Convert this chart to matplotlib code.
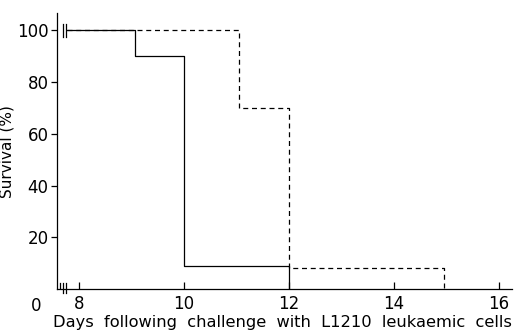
import matplotlib.pyplot as plt

# survival curves (step plots)
control_days = [7.78, 9.07, 10.0, 12.0]
control_surv = [100, 90, 9, 0]
treated_days = [7.78, 11.05, 12.0, 14.95]
treated_surv = [100, 70, 8, 0]

x_ticks = [8, 10, 12, 14, 16]
y_ticks = [20, 40, 60, 80, 100]

fig = plt.figure(figsize=(5.17, 3.35), dpi=100)
ax = fig.add_axes([0.110, 0.137, 0.880, 0.824])

ax.plot(control_days, control_surv, drawstyle='steps-post', color='black', lw=0.9)
ax.plot(treated_days, treated_surv, drawstyle='steps-post', color='black', lw=0.9,
        linestyle=(0, (4, 3)))

ax.set_xlim(7.58, 16.25)
ax.set_ylim(0, 106.6)
ax.spines['top'].set_visible(False)
ax.spines['right'].set_visible(False)
for s in ['left', 'bottom']:
    ax.spines[s].set_linewidth(0.9)

ax.set_xticks(x_ticks)
ax.set_yticks(y_ticks)
ax.tick_params(axis='x', direction='in', length=5, width=0.9, labelsize=12, pad=4)
ax.tick_params(axis='y', direction='out', length=4, width=0.9, labelsize=12, pad=2)

# axis break marks
for xb in [7.70, 7.76]:
    ax.plot([xb, xb], [-1.5, 2.5], color='black', lw=0.9, clip_on=False)
    ax.plot([xb, xb], [97.5, 102.5], color='black', lw=0.9, clip_on=False)
ax.plot([7.64, 7.64], [0, 2.5], color='black', lw=0.9)

ax.text(-0.045, -0.06, '0', transform=ax.transAxes, fontsize=12,
        ha='center', va='center')

ax.set_xlabel('Days  following  challenge  with  L1210  leukaemic  cells',
              fontsize=11.7, labelpad=2, loc='left')
ax.xaxis.label.set_x(-0.008)
ax.set_ylabel('Survival (%)', fontsize=11, labelpad=2)

fig.savefig('out.png', dpi=100)
